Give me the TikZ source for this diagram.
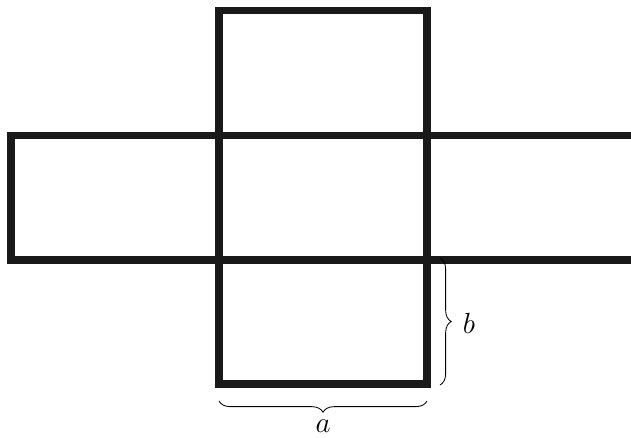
\documentclass[tikz,border=0pt]{standalone}
\usetikzlibrary{decorations.pathreplacing}

\tikzset{
  netline/.style={line width=5pt, line join=miter, color=black!90},
  bracel/.style={decorate, decoration={brace, amplitude=8pt}, line width=0.6pt},
  dimlabel/.style={font=\fontsize{20}{24}\selectfont}
}

\begin{document}
\begin{tikzpicture}[x=0.025cm, y=-0.025cm]
  \useasboundingbox (0,0) rectangle (631,437);
  % corners of the net
  \coordinate (ctl) at (219,10.5);
  \coordinate (cbr) at (427,384);
  \coordinate (ml) at (11,135.5);
  \coordinate (mr) at (631,135.5);
  \coordinate (bl) at (11,260);
  \coordinate (br) at (631,260);
  \draw[netline] (ctl) rectangle (cbr);
  \draw[netline] (mr) -- (ml) -- (bl) -- (br);
  % braces
  \coordinate (a1) at (427,401);
  \coordinate (a2) at (219,401);
  \coordinate (b1) at (440,258);
  \coordinate (b2) at (440,385);
  \draw[bracel] (a1) -- (a2);
  \draw[bracel] (b1) -- (b2);
  \node[dimlabel] (la) at (323,426) {$a$};
  \node[dimlabel] (lb) at (469,323) {$b$};
\end{tikzpicture}
\end{document}
